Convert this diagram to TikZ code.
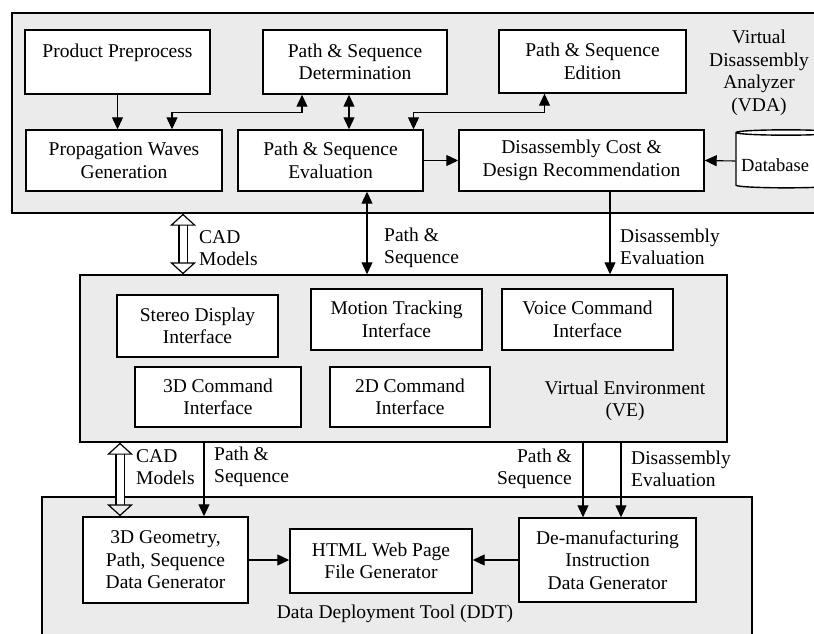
\documentclass[tikz,border=0pt]{standalone}
\usepackage{fontspec}
\setmainfont{Liberation Serif}
\usetikzlibrary{arrows.meta}
\usetikzlibrary{shapes.geometric}

\begin{document}
\begin{tikzpicture} [
        x=1pt, y=-1pt,
        font=\fontsize{19.5}{22.5}\selectfont,
        panel/.style={draw, line width=1.4pt, fill=black!8},
        block/.style={draw, line width=1.4pt, fill=white, align=center, inner sep=1pt},
        flow/.style={line width=1.1pt, -{Triangle[length=12pt,width=11pt]}},
        twoway/.style={line width=1.1pt, {Triangle[length=12pt,width=11pt]}-{Triangle[length=12pt,width=11pt]}},
        hollow/.style={double, double distance=7pt, line width=1.2pt,
            {Triangle[open,length=12pt,width=26pt]}-{Triangle[open,length=12pt,width=26pt]}},
        tag/.style={align=left, inner sep=0pt} ]
    \clip (0,0) rectangle (814,634);
    \fill[white] (0,0) rectangle (814,634);

    % three layers
    \node[panel, minimum width=818pt, minimum height=200pt] (vda) at (421,113) {};
    \node[panel, minimum width=647pt, minimum height=167pt] (ve)  at (403.5,358.5) {};
    \node[panel, minimum width=710pt, minimum height=153pt] (ddt) at (397,573.5) {};

    % analyzer
    \node[block, minimum width=185pt, minimum height=64pt] (pp)   at (117.5,62)  {Product Preprocess\\ \mbox{}};
    \node[block, minimum width=184pt, minimum height=64pt] (det)  at (355,62)    {Path \& Sequence\\Determination};
    \node[block, minimum width=187pt, minimum height=63pt] (edi)  at (592.5,61.5) {Path \& Sequence\\Edition};
    \node[block, minimum width=196pt, minimum height=61pt] (prop) at (124,160.5) {Propagation Waves\\Generation};
    \node[block, minimum width=185pt, minimum height=61pt] (evl)  at (330.5,160.5) {Path \& Sequence\\Evaluation};
    \node[block, minimum width=245pt, minimum height=61pt] (cost) at (581.5,160.5) {Disassembly Cost \&\\Design Recommendation};
    \node[draw, line width=1.4pt, fill=white, cylinder, shape border rotate=90, aspect=0.8,
          minimum width=100pt, minimum height=58pt] (db) at (786,161) {};
    \node[anchor=west, inner sep=0pt, font=\fontsize{18.5}{21}\selectfont] (dbtxt) at (741,165) {Database};
    \node[align=center, inner sep=0pt] (vdalbl) at (759,73) {Virtual\\Disassembly\\Analyzer\\(VDA)};

    \draw[flow] (pp.south) -- (pp.south |- prop.north);
    \draw[twoway] ([xshift=48pt]prop.north) -- ++(0,-17) -| ([xshift=-53pt]det.south);
    \draw[twoway] ([xshift=-6pt]det.south) -- ([xshift=-6pt]det.south |- evl.north);
    \draw[twoway] ([xshift=83pt]evl.north) -- ++(0,-17) -| ([xshift=-48pt]edi.south);
    \draw[flow] (evl.east) -- (cost.west);
    \draw[flow] (db.west) -- (cost.east);

    % analyzer <-> environment
    \draw[hollow] ([xshift=-220.5pt]ve.north |- vda.south) -- ([xshift=-220.5pt]ve.north);
    \node[tag, anchor=west] (cad1) at (199,248) {CAD\\Models};
    \draw[twoway] ([xshift=36.5pt]evl.south) -- ([xshift=36.5pt]evl.south |- ve.north);
    \node[tag, anchor=west] (ps1) at (384,248) {Path \&\\Sequence};
    \draw[flow] ([xshift=28.5pt]cost.south) -- ([xshift=28.5pt]cost.south |- ve.north);
    \node[tag, anchor=west] (de1) at (620,247) {Disassembly\\Evaluation};

    % environment
    \node[block, minimum width=161pt, minimum height=62pt] (sdi) at (197.5,326) {Stereo Display\\Interface};
    \node[block, minimum width=171pt, minimum height=61pt] (mti) at (396.5,319.5) {Motion Tracking\\Interface};
    \node[block, minimum width=171pt, minimum height=61pt] (vci) at (587.5,319.5) {Voice Command\\Interface};
    \node[block, minimum width=166pt, minimum height=60pt] (c3d) at (218,397) {3D Command\\Interface};
    \node[block, minimum width=160pt, minimum height=60pt] (c2d) at (410,397) {2D Command\\Interface};
    \node[align=center, inner sep=0pt] (velbl) at (625,401) {Virtual Environment\\(VE)};

    % deployment tool
    \node[block, minimum width=165pt, minimum height=86pt] (geo)  at (165.5,560) {3D Geometry,\\Path, Sequence\\Data Generator};
    \node[block, minimum width=182pt, minimum height=64pt] (html) at (381,561) {HTML Web Page\\File Generator};
    \node[block, minimum width=177pt, minimum height=84pt] (dem)  at (607.5,560) {De-manufacturing\\Instruction\\Data Generator};
    \node[inner sep=0pt] (ddtlbl) at (395,614) {Data Deployment Tool (DDT)};

    \draw[flow] (geo.east) -- (geo.east -| html.west);
    \draw[flow] (dem.west) -- (dem.west -| html.east);

    % environment -> deployment tool
    \draw[hollow] ([xshift=-45.5pt]geo.north |- ve.south) -- ([xshift=-45.5pt]geo.north);
    \node[tag, anchor=west] (cad2) at (136,467) {CAD\\Models};
    \draw[flow] ([xshift=38.5pt]geo.north |- ve.south) -- ([xshift=38.5pt]geo.north);
    \node[tag, anchor=west] (ps2) at (214,467) {Path \&\\Sequence};
    \draw[flow] ([xshift=-24.5pt]dem.north |- ve.south) -- ([xshift=-24.5pt]dem.north);
    \node[tag, anchor=east, align=right] (ps3) at (572,469) {Path \&\\Sequence};
    \draw[flow] ([xshift=13.5pt]dem.north |- ve.south) -- ([xshift=13.5pt]dem.north);
    \node[tag, anchor=west] (de2) at (631,469) {Disassembly\\Evaluation};
\end{tikzpicture}
\end{document}
